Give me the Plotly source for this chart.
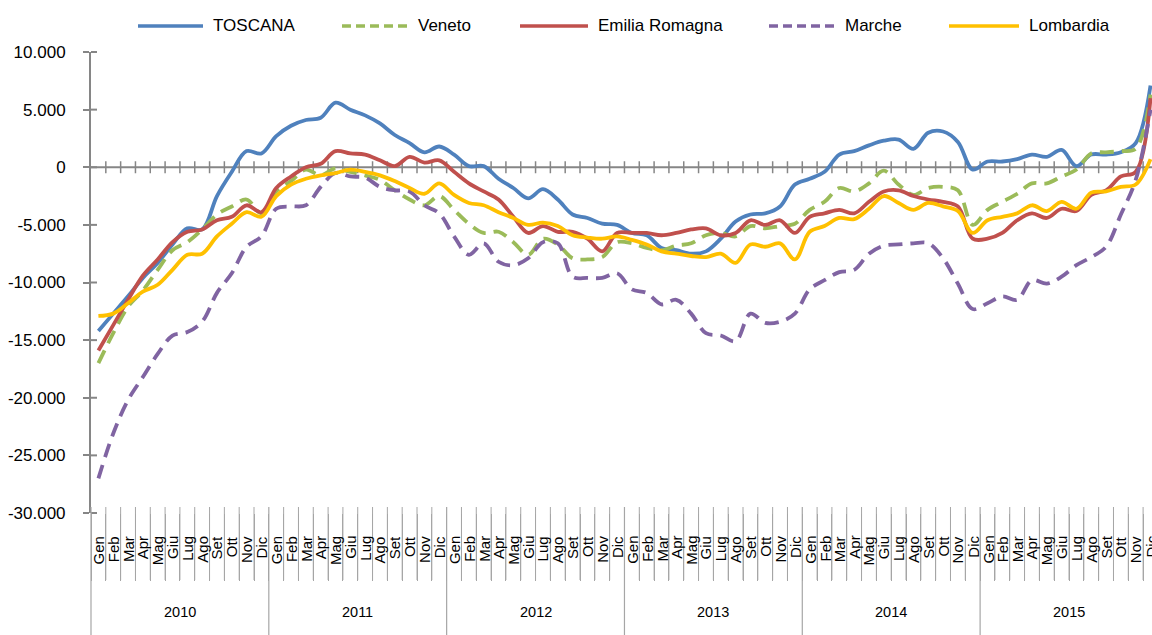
import plotly.graph_objects as go

months = ["Gen", "Feb", "Mar", "Apr", "Mag", "Giu", "Lug", "Ago", "Set", "Ott", "Nov", "Dic"]
years = ["2010", "2011", "2012", "2013", "2014", "2015"]

toscana = [-14200, -12700, -11200, -9600, -8300, -6700, -5300, -5400, -2500, -400, 1400, 1200,
           2700, 3600, 4100, 4300, 5600, 5000, 4500, 3800, 2800, 2100, 1300, 1800,
           1100, 100, 100, -1000, -1800, -2700, -1900, -2800, -4100, -4400, -4900, -5000,
           -5700, -5900, -7000, -7200, -7500, -7300, -6200, -4700, -4100, -4000, -3400, -1500,
           -1000, -400, 1100, 1400, 1900, 2300, 2400, 1600, 3000, 3100, 2200, -200,
           500, 500, 700, 1100, 900, 1500, 100, 1100, 1100, 1300, 2100, 7100]
veneto = [-17000, -14400, -12100, -10700, -8900, -7200, -6500, -5400, -4100, -3400, -2800, -4000,
          -2100, -1200, -200, -700, -100, -400, -700, -1100, -2000, -2800, -3300, -2500,
          -3700, -4900, -5700, -5600, -6500, -7600, -6200, -6700, -7900, -8000, -7800, -6500,
          -6600, -7000, -7200, -6800, -6600, -5900, -5700, -6000, -5100, -5300, -5100, -4900,
          -3700, -3000, -1800, -2100, -1400, -300, -1500, -2400, -1800, -1700, -2000, -5000,
          -3700, -3000, -2300, -1400, -1400, -800, -200, 1200, 1300, 1400, 1600, 6300]
emilia = [-15900, -13700, -11500, -9400, -8000, -6500, -5600, -5400, -4600, -4300, -3300, -3900,
          -1800, -800, 0, 300, 1400, 1200, 1100, 600, 100, 900, 400, 600,
          -400, -1400, -2100, -2800, -4300, -5700, -5100, -5600, -5600, -6200, -7300, -5700,
          -5700, -5700, -5900, -5700, -5400, -5300, -5900, -5700, -4600, -5000, -4600, -5700,
          -4300, -4000, -3700, -4000, -3000, -2100, -2000, -2500, -2800, -3000, -3400, -6200,
          -6200, -5700, -4600, -4000, -4400, -3600, -3800, -2400, -2000, -800, -400, 6000]
marche = [-27000, -23100, -20200, -18200, -16200, -14600, -14300, -13400, -10900, -9200, -6900, -6000,
          -3600, -3400, -3300, -1700, -500, -800, -900, -1700, -2000, -2100, -3300, -4000,
          -6000, -7600, -6600, -8200, -8500, -7900, -6500, -6600, -9500, -9600, -9600, -9200,
          -10600, -10900, -11900, -11500, -12700, -14400, -14600, -15100, -12700, -13500, -13400, -12700,
          -10600, -9800, -9100, -8900, -7500, -6800, -6700, -6600, -6600, -7900, -10100, -12300,
          -11800, -11200, -11500, -9800, -10100, -9500, -8500, -7800, -6900, -4100, -1100, 5000]
lombardia = [-12900, -12700, -11800, -10800, -10200, -8900, -7600, -7500, -6000, -4900, -3900, -4300,
             -2500, -1500, -1000, -700, -500, -200, -400, -700, -1200, -1800, -2300, -1400,
             -2400, -3100, -3300, -3900, -4400, -5000, -4800, -5100, -5900, -6100, -6200, -6000,
             -6300, -6700, -7300, -7500, -7700, -7800, -7500, -8300, -6700, -6900, -6600, -8000,
             -5600, -5100, -4400, -4500, -3600, -2500, -3100, -3700, -3100, -3400, -3800, -5700,
             -4600, -4300, -4000, -3300, -3800, -3000, -3600, -2200, -2100, -1700, -1500, 700]

series_names = ["TOSCANA", "Veneto", "Emilia Romagna", "Marche", "Lombardia"]
series_values = [toscana, veneto, emilia, marche, lombardia]
series_colors = ["#4F81BD", "#9BBB59", "#C0504D", "#8064A2", "#FFC000"]
series_dashed = [False, True, False, True, False]

y_ticks = list(range(-30000, 10001, 5000))

def fmt(v):
    s = f"{abs(v):,}".replace(",", ".")
    return ("-" if v < 0 else "") + s

# layout geometry (pixels)
W, H = 1152, 635
L, R, T, B = 91, 0, 52, 122
PW, PH = W - L - R, H - T - B
XMAX = 71.6
FONT = "Liberation Sans, Arial, sans-serif"
AXC = "#868686"
SEPC = "#a6a6a6"

def px_x(p):
    return (p - L) / PW

def px_y(p):
    return (H - B - p) / PH

n = len(years) * len(months)
xs = [i + 0.5 for i in range(n)]

fig = go.Figure()
for name, vals, col, dashed in zip(series_names, series_values, series_colors, series_dashed):
    fig.add_trace(go.Scatter(
        x=xs, y=vals, mode="lines", name=name, showlegend=False,
        line=dict(color=col, width=3.8, shape="spline", smoothing=1.0,
                  dash="14px,8px" if dashed else "solid"),
        hovertemplate="%{y}<extra>" + name + "</extra>",
    ))

shapes = []
zero_p = (0 - y_ticks[0]) / (y_ticks[-1] - y_ticks[0])
# horizontal zero axis with crossing ticks
shapes.append(dict(type="line", xref="paper", yref="paper", x0=0, x1=1, y0=zero_p, y1=zero_p,
                   line=dict(color=AXC, width=2), layer="below"))
for b in range(1, n):
    if b > XMAX:
        break
    xp = b / XMAX
    shapes.append(dict(type="line", xref="paper", yref="paper", x0=xp, x1=xp,
                       y0=zero_p - 6 / PH, y1=zero_p + 6 / PH,
                       line=dict(color=AXC, width=1.5), layer="below"))
# inner half of y ticks
for v in y_ticks:
    yp = (v - y_ticks[0]) / (y_ticks[-1] - y_ticks[0])
    shapes.append(dict(type="line", xref="paper", yref="paper", x0=0, x1=6 / PW, y0=yp, y1=yp,
                       line=dict(color=AXC, width=2), layer="below"))
# month separators (top part above plot bottom) and year separators
for b in range(0, n + 1):
    if b > XMAX:
        break
    xp = b / XMAX
    if b % 12 == 0:
        shapes.append(dict(type="line", xref="paper", yref="paper", x0=xp, x1=xp,
                           y0=px_y(507), y1=px_y(640), line=dict(color=SEPC, width=1.2)))
    else:
        shapes.append(dict(type="line", xref="paper", yref="paper", x0=xp, x1=xp,
                           y0=px_y(507), y1=px_y(580), line=dict(color=SEPC, width=1)))

annotations = []
for i in range(n):
    annotations.append(dict(x=xs[i], xref="x", y=px_y(534), yref="paper",
                            text=months[i % 12], showarrow=False, textangle=-90,
                            xanchor="center", yanchor="top",
                            font=dict(family=FONT, size=15, color="#000000")))
for k, yr in enumerate(years):
    annotations.append(dict(x=k * 12 + 6, xref="x", y=px_y(612), yref="paper",
                            text=yr, showarrow=False, xanchor="center", yanchor="middle",
                            font=dict(family=FONT, size=14.5, color="#000000")))

# legend (drawn manually to match positions)
leg_line = [(138, 203), (342, 408), (520, 588), (769, 835), (949, 1019)]
leg_y = 26
for (x0, x1), name, col, dashed in zip(leg_line, series_names, series_colors, series_dashed):
    shapes.append(dict(type="line", xref="paper", yref="paper", x0=px_x(x0), x1=px_x(x1),
                       y0=px_y(leg_y), y1=px_y(leg_y),
                       line=dict(color=col, width=3.5, dash="9px,5px" if dashed else "solid")))
    annotations.append(dict(x=px_x(x1 + 8), xref="paper", y=px_y(leg_y), yref="paper",
                            text=name, showarrow=False, xanchor="left", yanchor="middle",
                            font=dict(family=FONT, size=17, color="#000000")))

fig.update_layout(
    width=W, height=H,
    margin=dict(l=L, r=R, t=T, b=B, pad=0, autoexpand=False),
    paper_bgcolor="white", plot_bgcolor="white",
    font=dict(family=FONT, size=17, color="#000000"),
    showlegend=False,
    xaxis=dict(range=[0, XMAX], tickvals=list(range(0, n + 1)), ticks="outside", ticklen=67,
               tickwidth=1, tickcolor=SEPC, showticklabels=False, showgrid=False,
               zeroline=False, showline=False, fixedrange=True, automargin=False),
    yaxis=dict(range=[y_ticks[0], y_ticks[-1]], tickvals=y_ticks, ticktext=[fmt(v) for v in y_ticks],
               ticks="outside", ticklen=6, tickwidth=2, tickcolor=AXC, showline=True, linewidth=2,
               linecolor=AXC, showgrid=False, zeroline=False, ticklabelstandoff=14,
               tickfont=dict(family=FONT, size=17, color="#000000"), fixedrange=True,
               automargin=False),
    shapes=shapes, annotations=annotations,
)

fig.write_html("out.html", config={"displayModeBar": False},
               post_script="document.body.style.margin='0';document.body.style.overflow='hidden';")
